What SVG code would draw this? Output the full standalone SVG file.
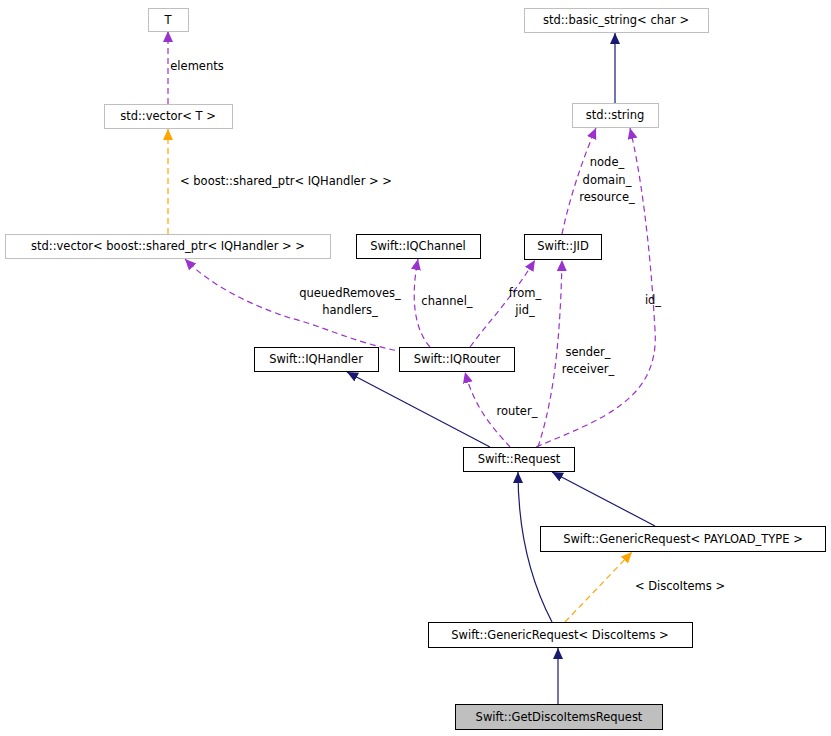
<svg xmlns="http://www.w3.org/2000/svg" width="831" height="736" viewBox="0 0 831 736">
<style>
text{font-family:"DejaVu Sans",sans-serif;font-size:11.5px;fill:#000}
.n rect{fill:#fff;stroke:#000;stroke-width:1}
.g rect{fill:#fff;stroke:#bfbfbf;stroke-width:1}
.c text{text-anchor:middle}
.inh{stroke:#191970;fill:none;stroke-width:1.2}
.use{stroke:#9a32cd;fill:none;stroke-width:1.2;stroke-dasharray:6,4}
.tpl{stroke:#ffa500;fill:none;stroke-width:1.2;stroke-dasharray:6,4}
</style>
<defs>
<marker id="an" markerWidth="12" markerHeight="12" refX="11" refY="5" orient="auto" markerUnits="userSpaceOnUse"><path d="M0,0L11,5L0,10z" fill="#191970"/></marker>
<marker id="ap" markerWidth="12" markerHeight="12" refX="11" refY="5" orient="auto" markerUnits="userSpaceOnUse"><path d="M0,0L11,5L0,10z" fill="#9a32cd"/></marker>
<marker id="ao" markerWidth="12" markerHeight="12" refX="11" refY="5" orient="auto" markerUnits="userSpaceOnUse"><path d="M0,0L11,5L0,10z" fill="#ffa500"/></marker>
</defs>
<rect width="831" height="736" fill="#fff"/>
<g id="edges">
<path class="use" d="M168,104V31" marker-end="url(#ap)"/>
<path class="tpl" d="M168,234V129" marker-end="url(#ao)"/>
<path class="inh" d="M615,103V33" marker-end="url(#an)"/>
<path class="use" d="M562,234C568,205 580,165 596,128" marker-end="url(#ap)"/>
<path class="use" d="M536,447C600,420 660,400 655,330C650,240 640,170 630,128" marker-end="url(#ap)"/>
<path class="use" d="M405,352C360,345 320,325 290,318C250,305 210,285 185,259" marker-end="url(#ap)"/>
<path class="use" d="M430,347C415,330 410,300 418,259" marker-end="url(#ap)"/>
<path class="use" d="M470,347C490,320 510,300 535,260" marker-end="url(#ap)"/>
<path class="use" d="M538,447C550,410 560,360 562,260" marker-end="url(#ap)"/>
<path class="use" d="M510,447C495,430 475,410 465,372" marker-end="url(#ap)"/>
<path class="inh" d="M490,447L347,372" marker-end="url(#an)"/>
<path class="inh" d="M655,526L552,472" marker-end="url(#an)"/>
<path class="inh" d="M552,622C530,580 518,530 518,472" marker-end="url(#an)"/>
<path class="tpl" d="M565,622L632,552" marker-end="url(#ao)"/>
<path class="inh" d="M558,704V648" marker-end="url(#an)"/>
</g>
<g class="c">
<text x="197" y="70">elements</text>
<text x="286" y="185">&lt; boost::shared_ptr&lt; IQHandler &gt; &gt;</text>
<text x="607" y="166">node_</text>
<text x="607" y="184">domain_</text>
<text x="607" y="201">resource_</text>
<text x="653" y="304">id_</text>
<text x="350" y="297">queuedRemoves_</text>
<text x="350" y="314">handlers_</text>
<text x="447" y="305">channel_</text>
<text x="525" y="297">from_</text>
<text x="525" y="314">jid_</text>
<text x="588" y="356">sender_</text>
<text x="588" y="373">receiver_</text>
<text x="517" y="415">router_</text>
<text x="680" y="590">&lt; DiscoItems &gt;</text>
</g>
<g id="T" class="g c"><rect x="148.5" y="8.5" width="40" height="23"/><text x="168" y="24">T</text></g>
<g id="vecT" class="g c"><rect x="104.5" y="104.5" width="128" height="24"/><text x="168" y="120">std::vector&lt; T &gt;</text></g>
<g id="vecSP" class="g c"><rect x="5.5" y="234.5" width="325" height="24"/><text x="168" y="250">std::vector&lt; boost::shared_ptr&lt; IQHandler &gt; &gt;</text></g>
<g id="bstr" class="g c"><rect x="524.5" y="8.5" width="184" height="24"/><text x="616" y="24">std::basic_string&lt; char &gt;</text></g>
<g id="str" class="g c"><rect x="572.5" y="103.5" width="86" height="24"/><text x="615" y="119">std::string</text></g>
<g id="IQChannel" class="n c"><rect x="356.5" y="234.5" width="124" height="24"/><text x="418" y="250">Swift::IQChannel</text></g>
<g id="JID" class="n c"><rect x="524.5" y="234.5" width="77" height="25"/><text x="563" y="250">Swift::JID</text></g>
<g id="IQHandler" class="n c"><rect x="254.5" y="347.5" width="124" height="24"/><text x="316" y="363">Swift::IQHandler</text></g>
<g id="IQRouter" class="n c"><rect x="399.5" y="347.5" width="115" height="24"/><text x="457" y="363">Swift::IQRouter</text></g>
<g id="Request" class="n c"><rect x="463.5" y="447.5" width="111" height="24"/><text x="519" y="463">Swift::Request</text></g>
<g id="GRP" class="n c"><rect x="540.5" y="526.5" width="285" height="25"/><text x="683" y="543">Swift::GenericRequest&lt; PAYLOAD_TYPE &gt;</text></g>
<g id="GRD" class="n c"><rect x="428.5" y="622.5" width="264" height="25"/><text x="560" y="639">Swift::GenericRequest&lt; DiscoItems &gt;</text></g>
<g id="GDIR" class="n c"><rect x="455.5" y="704.5" width="207" height="25" style="fill:#bfbfbf"/><text x="559" y="721">Swift::GetDiscoItemsRequest</text></g>
</svg>
